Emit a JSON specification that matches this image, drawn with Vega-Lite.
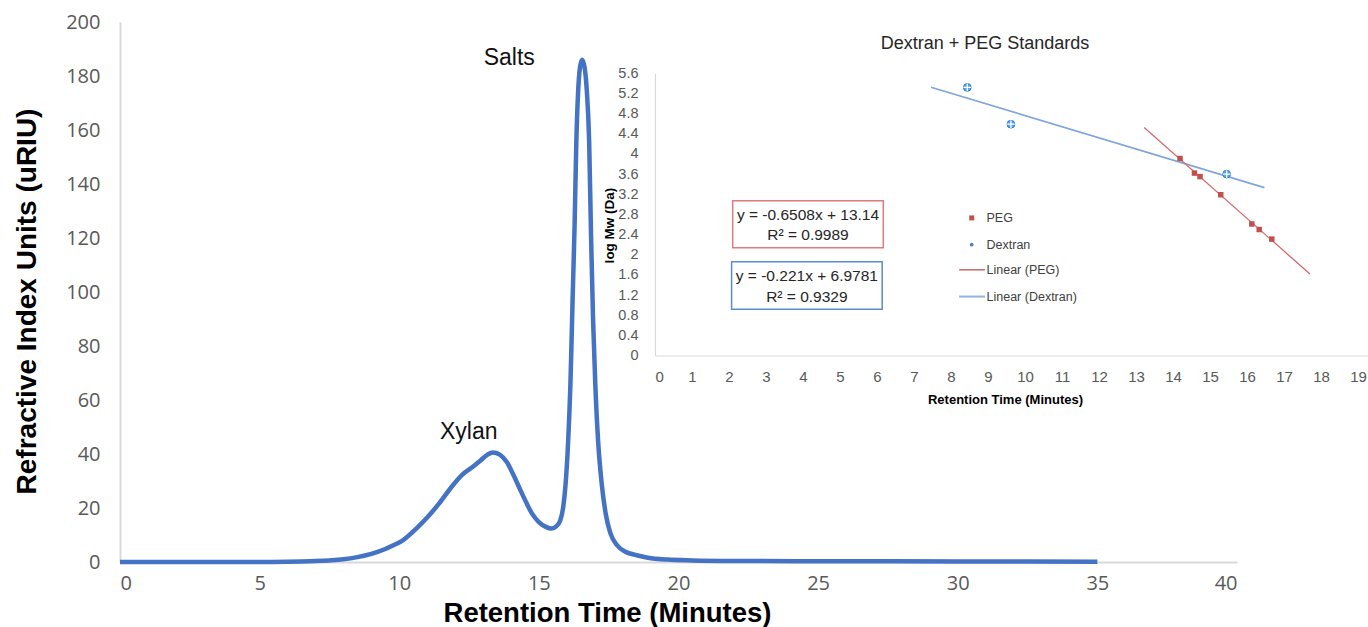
{
  "$schema": "https://vega.github.io/schema/vega-lite/v6.json",
  "width": 1117,
  "height": 540,
  "autosize": {"type": "none"},
  "padding": {"left": 120, "top": 22, "right": 131, "bottom": 65},
  "background": "white",
  "config": {
    "view": {"stroke": null},
    "font": "Liberation Sans",
    "axis": {"grid": false, "ticks": false, "domainColor": "#d9d9d9", "labelColor": "#595959", "titleColor": "#000000", "labelOverlap": false}
  },
  "resolve": {"scale": {"x": "independent", "y": "independent"}, "axis": {"x": "independent", "y": "independent"}},
  "layer": [
    {
      "data": {"values": [
        {"time": 0, "riu": 0}, {"time": 1, "riu": 0}, {"time": 2, "riu": 0}, {"time": 3, "riu": 0}, {"time": 4, "riu": 0}, {"time": 5, "riu": 0},
        {"time": 6, "riu": 0.1}, {"time": 6.5, "riu": 0.2}, {"time": 7, "riu": 0.35}, {"time": 7.5, "riu": 0.6}, {"time": 8, "riu": 1.0},
        {"time": 8.5, "riu": 1.8}, {"time": 9, "riu": 3.0}, {"time": 9.5, "riu": 4.8}, {"time": 9.75, "riu": 6.0}, {"time": 10.1, "riu": 7.8},
        {"time": 10.6, "riu": 12.3}, {"time": 11, "riu": 16.5}, {"time": 11.43, "riu": 21.7}, {"time": 11.85, "riu": 27.5}, {"time": 12.25, "riu": 32.3},
        {"time": 12.6, "riu": 35}, {"time": 12.9, "riu": 37.5}, {"time": 13.15, "riu": 39.7}, {"time": 13.35, "riu": 40.6}, {"time": 13.6, "riu": 39.8},
        {"time": 13.85, "riu": 37}, {"time": 14.1, "riu": 32}, {"time": 14.3, "riu": 27.5}, {"time": 14.55, "riu": 22}, {"time": 14.75, "riu": 18},
        {"time": 15, "riu": 14.8}, {"time": 15.25, "riu": 13}, {"time": 15.45, "riu": 12.4}, {"time": 15.62, "riu": 13.2}, {"time": 15.77, "riu": 15.5},
        {"time": 15.88, "riu": 21}, {"time": 15.95, "riu": 28}, {"time": 16.05, "riu": 45}, {"time": 16.13, "riu": 66}, {"time": 16.21, "riu": 98},
        {"time": 16.28, "riu": 125}, {"time": 16.34, "riu": 155}, {"time": 16.4, "riu": 173}, {"time": 16.47, "riu": 183}, {"time": 16.55, "riu": 186},
        {"time": 16.64, "riu": 183}, {"time": 16.72, "riu": 174}, {"time": 16.8, "riu": 156}, {"time": 16.87, "riu": 120}, {"time": 16.94, "riu": 90},
        {"time": 17.02, "riu": 66}, {"time": 17.12, "riu": 45}, {"time": 17.25, "riu": 29}, {"time": 17.4, "riu": 17.5}, {"time": 17.56, "riu": 10.7},
        {"time": 17.8, "riu": 6.2}, {"time": 18.1, "riu": 3.8}, {"time": 18.5, "riu": 2.5}, {"time": 18.9, "riu": 1.6}, {"time": 19.6, "riu": 0.9},
        {"time": 20.5, "riu": 0.6}, {"time": 22, "riu": 0.4}, {"time": 25, "riu": 0.3}, {"time": 30, "riu": 0.2}, {"time": 35, "riu": 0.1}
      ]},
      "layer": [
        {
          "mark": {"type": "line", "color": "#4472C4", "strokeWidth": 4.5, "interpolate": "monotone"},
          "encoding": {
            "x": {"field": "time", "type": "quantitative",
              "scale": {"domain": [0, 40], "nice": false, "zero": false},
              "axis": {"values": [0, 5, 10, 15, 20, 25, 30, 35, 40], "tickCount": 20, "labelFont": "Open Sans", "labelFontSize": 20, "labelPadding": 11,
                "domainWidth": 2, "title": "Retention Time (Minutes)", "titleFont": "Liberation Sans", "titleFontSize": 27.5, "titleFontWeight": "bold",
                "titleX": 487, "titleY": 59, "titleBaseline": "alphabetic", "titleAlign": "center"}},
            "y": {"field": "riu", "type": "quantitative",
              "scale": {"domain": [0, 200], "nice": false},
              "axis": {"values": [0, 20, 40, 60, 80, 100, 120, 140, 160, 180, 200], "tickCount": 20, "labelFont": "Open Sans", "labelFontSize": 20, "labelPadding": 20,
                "domainWidth": 2, "title": "Refractive Index Units (uRIU)", "titleFont": "Liberation Sans", "titleFontSize": 28, "titleFontWeight": "bold",
                "titleX": -85, "titleY": 279, "titleBaseline": "alphabetic", "titleAlign": "center"}}
          }
        },
        {
          "data": {"values": [{}]},
          "mark": {"type": "text", "font": "Liberation Sans", "fontSize": 23, "color": "#111111", "align": "center", "baseline": "middle"},
          "encoding": {"x": {"datum": 13.94}, "y": {"datum": 186.7}, "text": {"value": "Salts"}}
        },
        {
          "data": {"values": [{}]},
          "mark": {"type": "text", "font": "Liberation Sans", "fontSize": 23, "color": "#111111", "align": "center", "baseline": "middle"},
          "encoding": {"x": {"datum": 12.49}, "y": {"datum": 48.3}, "text": {"value": "Xylan"}}
        }
      ]
    },
    {
      "data": {"values": [
        {"series": "PEG", "rt": 14.19, "logmw": 3.91},
        {"series": "PEG", "rt": 14.58, "logmw": 3.62},
        {"series": "PEG", "rt": 14.73, "logmw": 3.55},
        {"series": "PEG", "rt": 15.29, "logmw": 3.19},
        {"series": "PEG", "rt": 16.13, "logmw": 2.61},
        {"series": "PEG", "rt": 16.33, "logmw": 2.50},
        {"series": "PEG", "rt": 16.67, "logmw": 2.31},
        {"series": "Dextran", "rt": 8.44, "logmw": 5.32},
        {"series": "Dextran", "rt": 9.62, "logmw": 4.59},
        {"series": "Dextran", "rt": 15.45, "logmw": 3.60}
      ]},
      "layer": [
        {
          "transform": [{"filter": "datum.series == 'Dextran'"}, {"regression": "logmw", "on": "rt", "extent": [7.46, 16.47]}],
          "mark": {"type": "line", "color": "#7EA6DC", "strokeWidth": 1.6},
          "encoding": {
            "x": {"field": "rt", "type": "quantitative",
              "scale": {"domain": [0, 19.3], "range": [535, 1249.1], "nice": false, "zero": false},
              "axis": {"orient": "bottom", "offset": -206.5, "values": [0, 1, 2, 3, 4, 5, 6, 7, 8, 9, 10, 11, 12, 13, 14, 15, 16, 17, 18, 19],
                "tickCount": 30, "labelExpr": "format(datum.value, 'd')",
                "labelFont": "Liberation Sans", "labelFontSize": 15, "labelPadding": 14, "domainWidth": 1.2,
                "title": "Retention Time (Minutes)", "titleFont": "Liberation Sans", "titleFontSize": 13, "titleFontWeight": "bold",
                "titleX": 885, "titleY": 44, "titleBaseline": "middle", "titleAlign": "center"}},
            "y": {"field": "logmw", "type": "quantitative",
              "scale": {"domain": [0, 5.6], "range": [333.5, 51.3], "nice": false, "zero": false},
              "axis": {"orient": "left", "offset": -535, "values": [0, 0.4, 0.8, 1.2, 1.6, 2, 2.4, 2.8, 3.2, 3.6, 4, 4.4, 4.8, 5.2, 5.6],
                "tickCount": 30, "labelExpr": "format(datum.value, '.1~f')",
                "labelFont": "Liberation Sans", "labelFontSize": 14.5, "labelPadding": 17, "domainWidth": 1.2,
                "title": "log Mw (Da)", "titleFont": "Liberation Sans", "titleFontSize": 13.5, "titleFontWeight": "bold",
                "titleX": -46, "titleY": 203, "titleBaseline": "middle", "titleAlign": "center"}}
          }
        },
        {
          "transform": [{"filter": "datum.series == 'PEG'"}, {"regression": "logmw", "on": "rt", "extent": [13.22, 17.7]}],
          "mark": {"type": "line", "color": "#D46A6A", "strokeWidth": 1.3},
          "encoding": {"x": {"field": "rt", "type": "quantitative"}, "y": {"field": "logmw", "type": "quantitative"}}
        },
        {
          "transform": [{"filter": "datum.series == 'PEG'"}],
          "mark": {"type": "point", "shape": "square", "filled": true, "color": "#C0504D", "size": 30, "opacity": 1},
          "encoding": {"x": {"field": "rt", "type": "quantitative"}, "y": {"field": "logmw", "type": "quantitative"}}
        },
        {
          "transform": [{"filter": "datum.series == 'Dextran'"}],
          "mark": {"type": "point", "shape": "circle", "filled": true, "fill": "#5AA6EE", "stroke": "#2A7FD4", "strokeWidth": 1, "size": 60, "opacity": 1},
          "encoding": {"x": {"field": "rt", "type": "quantitative"}, "y": {"field": "logmw", "type": "quantitative"}}
        },
        {
          "transform": [{"filter": "datum.series == 'Dextran'"}],
          "mark": {"type": "point", "shape": "M-1,0L1,0M0,-1L0,1", "filled": false, "stroke": "#ffffff", "strokeWidth": 1.3, "size": 60, "opacity": 1},
          "encoding": {"x": {"field": "rt", "type": "quantitative"}, "y": {"field": "logmw", "type": "quantitative"}}
        },
        {
          "data": {"values": [{}]},
          "mark": {"type": "text", "font": "Liberation Sans", "fontSize": 18, "color": "#262626", "align": "center", "baseline": "alphabetic"},
          "encoding": {"x": {"datum": 8.92}, "y": {"datum": 6.09}, "text": {"value": "Dextran + PEG Standards"}}
        },
        {
          "data": {"values": [{}]},
          "mark": {"type": "rect", "fill": "#ffffff", "stroke": "#E07B7B", "strokeWidth": 1.5},
          "encoding": {"x": {"datum": 2.10}, "x2": {"datum": 6.17}, "y": {"datum": 3.07}, "y2": {"datum": 2.14}}
        },
        {
          "data": {"values": [{}]},
          "mark": {"type": "rect", "fill": "#ffffff", "stroke": "#5B8BD0", "strokeWidth": 1.5},
          "encoding": {"x": {"datum": 2.07}, "x2": {"datum": 6.14}, "y": {"datum": 1.86}, "y2": {"datum": 0.92}}
        },
        {
          "data": {"values": [{}]},
          "mark": {"type": "text", "font": "Liberation Sans", "fontSize": 15.5, "color": "#262626", "align": "center", "baseline": "middle"},
          "encoding": {"x": {"datum": 4.135}, "y": {"datum": 2.79}, "text": {"value": "y = -0.6508x + 13.14"}}
        },
        {
          "data": {"values": [{}]},
          "mark": {"type": "text", "font": "Liberation Sans", "fontSize": 15.5, "color": "#262626", "align": "center", "baseline": "middle"},
          "encoding": {"x": {"datum": 4.135}, "y": {"datum": 2.40}, "text": {"value": "R² = 0.9989"}}
        },
        {
          "data": {"values": [{}]},
          "mark": {"type": "text", "font": "Liberation Sans", "fontSize": 15.5, "color": "#262626", "align": "center", "baseline": "middle"},
          "encoding": {"x": {"datum": 4.105}, "y": {"datum": 1.58}, "text": {"value": "y = -0.221x + 6.9781"}}
        },
        {
          "data": {"values": [{}]},
          "mark": {"type": "text", "font": "Liberation Sans", "fontSize": 15.5, "color": "#262626", "align": "center", "baseline": "middle"},
          "encoding": {"x": {"datum": 4.105}, "y": {"datum": 1.16}, "text": {"value": "R² = 0.9329"}}
        },
        {
          "data": {"values": [{}]},
          "mark": {"type": "point", "shape": "square", "filled": true, "color": "#C0504D", "size": 25, "opacity": 1},
          "encoding": {"x": {"datum": 8.56}, "y": {"datum": 2.73}}
        },
        {
          "data": {"values": [{}]},
          "mark": {"type": "point", "shape": "circle", "filled": true, "color": "#4F81BD", "size": 14, "opacity": 1},
          "encoding": {"x": {"datum": 8.56}, "y": {"datum": 2.20}}
        },
        {
          "data": {"values": [{}]},
          "mark": {"type": "rule", "color": "#C0504D", "strokeWidth": 1.3},
          "encoding": {"x": {"datum": 8.22}, "x2": {"datum": 8.92}, "y": {"datum": 1.70}}
        },
        {
          "data": {"values": [{}]},
          "mark": {"type": "rule", "color": "#8DB3E2", "strokeWidth": 2},
          "encoding": {"x": {"datum": 8.22}, "x2": {"datum": 8.92}, "y": {"datum": 1.17}}
        },
        {
          "data": {"values": [{}]},
          "mark": {"type": "text", "font": "Liberation Sans", "fontSize": 12.5, "color": "#404040", "align": "left", "baseline": "middle"},
          "encoding": {"x": {"datum": 8.96}, "y": {"datum": 2.73}, "text": {"value": "PEG"}}
        },
        {
          "data": {"values": [{}]},
          "mark": {"type": "text", "font": "Liberation Sans", "fontSize": 12.5, "color": "#404040", "align": "left", "baseline": "middle"},
          "encoding": {"x": {"datum": 8.96}, "y": {"datum": 2.20}, "text": {"value": "Dextran"}}
        },
        {
          "data": {"values": [{}]},
          "mark": {"type": "text", "font": "Liberation Sans", "fontSize": 12.5, "color": "#404040", "align": "left", "baseline": "middle"},
          "encoding": {"x": {"datum": 8.96}, "y": {"datum": 1.70}, "text": {"value": "Linear (PEG)"}}
        },
        {
          "data": {"values": [{}]},
          "mark": {"type": "text", "font": "Liberation Sans", "fontSize": 12.5, "color": "#404040", "align": "left", "baseline": "middle"},
          "encoding": {"x": {"datum": 8.96}, "y": {"datum": 1.17}, "text": {"value": "Linear (Dextran)"}}
        }
      ]
    }
  ]
}
